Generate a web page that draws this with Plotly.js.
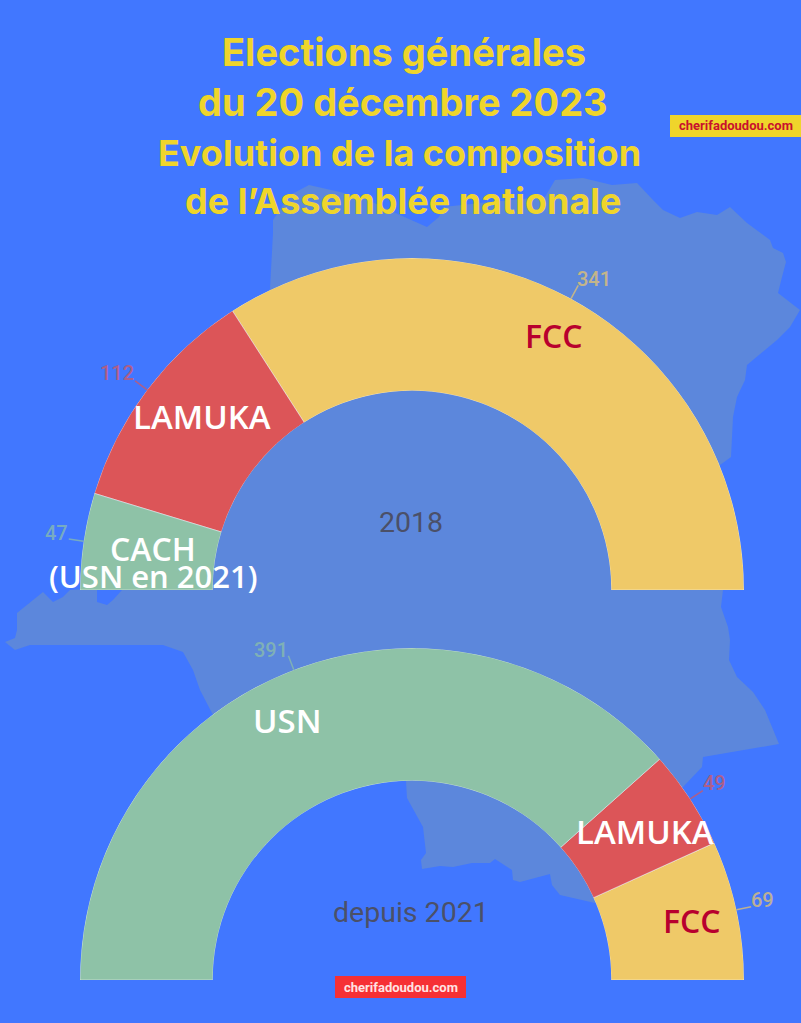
<!DOCTYPE html>
<html lang="fr">
<head>
<meta charset="utf-8">
<title>Elections générales</title>
<script src="https://cdn.plot.ly/plotly-3.0.1.min.js"></script>
<style>html,body{margin:0;padding:0;background:#4177FF;overflow:hidden}</style>
</head>
<body>
<div id="chart" style="width:801px;height:1023px"></div>
<script>
// ---- Data ----
const parties2018 = ["FCC", "LAMUKA", "CACH"];
const seats2018 = [341, 112, 47];
const colors2018 = ["#EFC968", "#DC5558", "#8EC2A7"];

const parties2021 = ["FCC", "LAMUKA", "USN"];
const seats2021 = [69, 49, 391];
const colors2021 = ["#EFC968", "#DC5558", "#8EC2A7"];

const titleLines = ["Elections générales", "du 20 décembre 2023", "Evolution de la composition", "de l’Assemblée nationale"];
const periodLabels = ["2018", "depuis 2021"];
const siteName = "cherifadoudou.com";

// ---- Page geometry ----
const W = 801, H = 1023;
const BG = "#4177FF", MAP = "#5C87DC", GOLD = "#EFD52B", CRIMSON = "#B8002E", GREY = "#4B5068";
const CX = 412, R = 332, HOLE = 0.6, BASE_2018 = 590, BASE_2021 = 980;
const px = x => x / W, py = y => 1 - y / H;

// Decorative country silhouette behind the charts (page pixels)
const mapOutline = [
  [273,233],[273,220],[290,195],[309,185],[340,192],[368,200],[400,215],[427,227],[439,217],[443,207],
  [490,202],[545,197],[555,180],[583,178],[612,185],[637,183],[653,200],[663,210],[680,218],[697,212],
  [717,215],[730,207],[747,223],[770,240],[773,248],[783,253],[786,262],[782,277],[778,293],[800,310],
  [790,327],[777,340],[747,365],[745,380],[737,397],[733,417],[731,457],[720,465],[700,520],[723,590],
  [721,607],[728,627],[730,640],[729,660],[737,677],[753,692],[765,710],[779,744],[703,757],[702,767],
  [683,787],[640,830],[595,903],[560,895],[552,885],[550,874],[520,882],[513,880],[512,870],[495,859],
  [490,863],[472,863],[453,867],[440,866],[422,869],[421,860],[426,853],[423,827],[407,798],[406,781],
  [310,748],[213,715],[200,690],[193,670],[183,652],[163,645],[90,645],[30,645],[15,650],[5,642],
  [15,638],[17,630],[17,613],[43,592],[53,602],[63,597],[70,590],[85,589],[90,570],[97,590],
  [97,602],[107,605],[113,600],[122,590],[131,520],[140,450],[230,340],[270,289]
];
const mapPath = "M" + mapOutline.map(p => px(p[0]).toFixed(5) + "," + py(p[1]).toFixed(5)).join("L") + "Z";

// ---- Traces: half-doughnuts drawn on polar subplots ----
function arcTrace(parties, seats, colors, subplot) {
  const total = seats.reduce((a, b) => a + b, 0);
  let run = 0;
  const theta = [], width = [];
  seats.forEach(v => {
    const w = v / total * 180;
    theta.push(run + w / 2);
    width.push(w);
    run += w;
  });
  return {
    type: "barpolar", subplot, r: seats.map(() => 1), theta, width,
    text: parties, customdata: seats, hoverinfo: "text",
    marker: { color: colors, line: { color: "rgba(255,255,255,0.45)", width: 1 } }
  };
}

function polarLayout(base) {
  return {
    domain: { x: [px(CX - R), px(CX + R)], y: [py(base), py(base - R)] },
    sector: [0, 180], hole: HOLE, bgcolor: "rgba(0,0,0,0)",
    radialaxis: { visible: false, range: [0, 1] },
    angularaxis: { visible: false, thetaunit: "degrees", direction: "counterclockwise", rotation: 0 },
    barmode: "overlay", bargap: 0
  };
}

// ---- Text ----
const ann = [];
function addText(text, x, y, size, color, family, weight, opacity) {
  ann.push({
    text, x: px(x), y: py(y), xref: "paper", yref: "paper", xanchor: "center", yanchor: "middle",
    showarrow: false, opacity: opacity === undefined ? 1 : opacity,
    font: { size, color, family, weight: weight || 400 }
  });
}
const titleX = [403.5, 402.5, 399, 402.5], titleY = [52, 102, 153, 201], titleSize = [38, 38, 36, 36];
titleLines.forEach((t, i) => addText(t, titleX[i], titleY[i], titleSize[i], GOLD, "Inter", 700));

addText(periodLabels[0], 411, 522, 28.5, GREY, "Roboto");
addText(periodLabels[1], 411, 912, 28.5, GREY, "Roboto");

const LABEL_FONT = "'Open Sans'";
addText(parties2018[0], 554, 336, 32, CRIMSON, LABEL_FONT, 600);
addText(parties2018[1], 202, 416.5, 33, "#FFFFFF", LABEL_FONT, 600);
addText(parties2018[2], 153, 548, 32, "#FFFFFF", LABEL_FONT, 600);
addText("(USN en 2021)", 153, 576, 31, "#FFFFFF", LABEL_FONT, 600);
addText(parties2021[0], 692, 920, 32, CRIMSON, LABEL_FONT, 600);
addText(parties2021[1], 645, 831.5, 33, "#FFFFFF", LABEL_FONT, 600);
addText(parties2021[2], 287, 720.5, 33, "#FFFFFF", LABEL_FONT, 600);

// ---- Value labels with leader lines computed from the values ----
const shapes = [
  { type: "path", path: mapPath, xref: "paper", yref: "paper", fillcolor: MAP, line: { width: 0 }, layer: "below" },
  { type: "rect", xref: "paper", yref: "paper", x0: px(670), x1: px(801), y0: py(137), y1: py(115), fillcolor: GOLD, line: { width: 0 } },
  { type: "rect", xref: "paper", yref: "paper", x0: px(335), x1: px(466), y0: py(998), y1: py(976), fillcolor: "#F63034", line: { width: 0 } }
];
function addValues(seats, colors, baseY, labelPos) {
  const total = seats.reduce((a, b) => a + b, 0);
  let run = 0;
  seats.forEach((v, i) => {
    const a = (run + v / 2) / total * Math.PI;
    run += v;
    const c = Math.cos(a), s = Math.sin(a);
    shapes.push({
      type: "line", xref: "paper", yref: "paper",
      x0: px(CX + R * c), y0: py(baseY - R * s),
      x1: px(CX + (R + 15) * c), y1: py(baseY - (R + 15) * s),
      line: { color: colors[i], width: 1.5 }, opacity: 0.7
    });
    addText(String(v), labelPos[i][0], labelPos[i][1], 20, colors[i], "Roboto", 500, 0.7);
  });
}
addValues(seats2018, colors2018, BASE_2018, [[594, 279], [117, 373], [56, 533]]);
addValues(seats2021, colors2021, BASE_2021, [[762, 900], [714, 783], [271, 650]]);

addText(siteName, 735.5, 125.5, 13, "#C8102E", "Roboto", 700);
addText(siteName, 400.5, 987, 13, "#FFE3E3", "Roboto", 700);

// ---- Figure ----
Plotly.newPlot("chart", [
  arcTrace(parties2018, seats2018, colors2018, "polar"),
  arcTrace(parties2021, seats2021, colors2021, "polar2")
], {
  width: W, height: H, margin: { l: 0, r: 0, t: 0, b: 0, pad: 0 },
  paper_bgcolor: BG, plot_bgcolor: "rgba(0,0,0,0)", showlegend: false,
  polar: polarLayout(BASE_2018), polar2: polarLayout(BASE_2021),
  shapes, annotations: ann
}, { displayModeBar: false, responsive: false });
</script>
</body>
</html>
